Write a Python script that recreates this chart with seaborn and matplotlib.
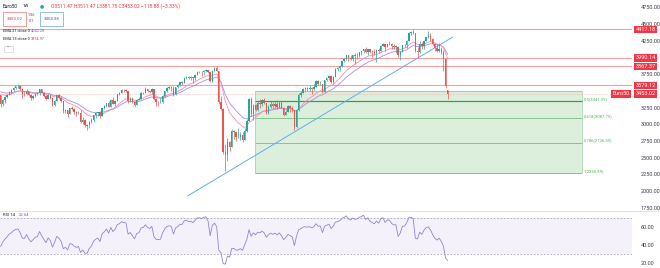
import numpy as np
import pandas as pd
import matplotlib
matplotlib.use("Agg")
import matplotlib.pyplot as plt
from matplotlib.patches import Rectangle
from matplotlib.lines import Line2D
from matplotlib.transforms import blended_transform_factory
import seaborn as sns

# ---------------- data ----------------
symbol = "Euro50"
interval = "1W"
ohlc_text = "O3511.47 H3511.47 L3381.75 C3453.02 \u2212118.88 (\u22123.33%)"
sell_price = "3453.02"
spread_top = "1.36"
spread_bottom = "0.1"
buy_price = "3454.38"
ema21_value = "4042.20"
ema13_value = "3974.97"
rsi_value = "22.64"

# weekly closes before the first visible bar (only used to warm up the indicators)
warmup_closes = [3580, 3590, 3540, 3580, 3600, 3555, 3504, 3608, 3615, 3650,
                 3647, 3523, 3325, 3401, 3441, 3335, 3435, 3437]

closes = [
    3297, 3362, 3408, 3442, 3489, 3508, 3545, 3565, 3573, 3531,
    3454, 3448, 3500, 3440, 3395, 3422, 3450, 3460, 3526, 3474,
    3426, 3377, 3436, 3393, 3283, 3345, 3431, 3399, 3345, 3194,
    3213, 3152, 3238, 3230, 3190, 3161, 3173, 3040, 3070, 2987,
    2986, 3041, 3070, 3135, 3163, 3178, 3125, 3240, 3269, 3318,
    3260, 3366, 3305, 3351, 3449, 3470, 3515, 3505, 3503, 3351,
    3380, 3329, 3281, 3367, 3377, 3467, 3474, 3527, 3497, 3482,
    3519, 3376, 3333, 3329, 3334, 3427, 3496, 3538, 3551, 3543,
    3448, 3556, 3579, 3624, 3623, 3697, 3709, 3695, 3703, 3689,
    3731, 3776, 3782, 3773, 3799, 3808, 3779, 3640, 3798, 3841,
    3800, 3329, 3232, 2586, 2548, 2728, 2662, 2892, 2888, 2809,
    2810, 2842, 2770, 2905, 3050, 3384, 3153, 3289, 3219, 3320,
    3296, 3366, 3310, 3174, 3252, 3308, 3271, 3306, 3260, 3316,
    3249, 3137, 3190, 3273, 3245, 3208, 2958, 3208, 3433, 3468,
    3527, 3539, 3531, 3546, 3525, 3553, 3645, 3599, 3602, 3481,
    3656, 3686, 3713, 3636, 3700, 3826, 3837, 3867, 3945, 3978,
    4032, 3990, 3975, 4034, 4017, 4026, 4073, 4092, 4127, 4083,
    4123, 4084, 4072, 4060, 4110, 4089, 4175, 4199, 4153, 4203,
    4201, 4170, 4157, 4158, 4036, 4079, 4183, 4189, 4250, 4363,
    4370, 4356, 4089, 4080, 4199, 4162, 4248, 4298, 4316, 4272,
    4200, 4136, 4100, 4130, 4074, 3970, 3571.90, 3453.02,
]

highs = [
    3395, 3380, 3425, 3450, 3500, 3520, 3550, 3578, 3596, 3585,
    3540, 3490, 3520, 3500, 3445, 3430, 3460, 3480, 3530, 3530,
    3480, 3430, 3445, 3440, 3390, 3360, 3435, 3445, 3400, 3345,
    3230, 3215, 3245, 3270, 3240, 3200, 3195, 3210, 3110, 3080,
    3010, 3055, 3090, 3140, 3180, 3190, 3200, 3245, 3285, 3320,
    3340, 3375, 3410, 3365, 3455, 3480, 3525, 3525, 3525, 3500,
    3410, 3400, 3345, 3375, 3405, 3480, 3485, 3550, 3525, 3510,
    3540, 3530, 3390, 3350, 3390, 3435, 3500, 3555, 3570, 3570,
    3575, 3560, 3600, 3630, 3640, 3710, 3720, 3720, 3715, 3705,
    3750, 3790, 3790, 3795, 3805, 3825, 3815, 3760, 3805, 3850,
    3867.37, 3800, 3420, 3240, 2700, 2800, 2750, 2925, 2920, 2890,
    2950, 2880, 2880, 2950, 3080, 3390, 3400, 3300, 3300, 3340,
    3375, 3375, 3390, 3320, 3290, 3340, 3330, 3340, 3360, 3340,
    3350, 3260, 3220, 3290, 3290, 3270, 3210, 3225, 3470, 3490,
    3535, 3550, 3560, 3580, 3560, 3600, 3660, 3665, 3640, 3600,
    3660, 3695, 3730, 3730, 3725, 3840, 3860, 3880, 3950, 3985,
    4035, 4040, 4030, 4040, 4070, 4060, 4080, 4100, 4130, 4160,
    4130, 4130, 4110, 4120, 4120, 4140, 4180, 4210, 4200, 4205,
    4245, 4210, 4200, 4190, 4170, 4090, 4185, 4200, 4260, 4375,
    4390, 4417.18, 4365, 4160, 4240, 4230, 4260, 4310, 4392, 4360,
    4290, 4210, 4200, 4220, 4160, 4110, 3990.14, 3511.47,
]

lows = [
    3260, 3280, 3320, 3390, 3430, 3455, 3490, 3530, 3540, 3510,
    3385, 3420, 3440, 3420, 3360, 3370, 3400, 3430, 3440, 3460,
    3400, 3355, 3370, 3380, 3270, 3280, 3340, 3380, 3330, 3170,
    3170, 3110, 3150, 3215, 3160, 3120, 3150, 3020, 3010, 2960,
    2909, 2940, 3020, 3040, 3100, 3130, 3100, 3120, 3225, 3265,
    3255, 3275, 3300, 3280, 3350, 3435, 3465, 3480, 3475, 3320,
    3330, 3320, 3270, 3285, 3360, 3375, 3445, 3475, 3480, 3465,
    3450, 3360, 3280, 3280, 3320, 3310, 3410, 3480, 3520, 3490,
    3420, 3440, 3540, 3565, 3590, 3620, 3675, 3680, 3660, 3615,
    3665, 3735, 3760, 3720, 3740, 3780, 3770, 3635, 3630, 3790,
    3790, 3300, 3210, 2550, 2302, 2450, 2600, 2665, 2780, 2750,
    2800, 2760, 2730, 2800, 2890, 3050, 3130, 3070, 3200, 3200,
    3240, 3280, 3300, 3150, 3160, 3250, 3250, 3250, 3230, 3240,
    3240, 3130, 3140, 3180, 3180, 3180, 2920, 2950, 3200, 3400,
    3460, 3490, 3490, 3500, 3450, 3515, 3550, 3590, 3580, 3470,
    3490, 3640, 3660, 3620, 3610, 3700, 3800, 3800, 3860, 3930,
    3960, 3950, 3960, 3950, 3900, 3980, 4000, 4040, 4070, 4070,
    4040, 4060, 4000, 4040, 3930, 4070, 4090, 4170, 4100, 4150,
    4190, 4130, 4120, 4060, 4010, 3960, 4080, 4150, 4140, 4250,
    4330, 4340, 4080, 4000, 4070, 4120, 4130, 4240, 4290, 4250,
    4180, 4100, 4080, 4080, 4050, 3800, 3540, 3381.75,
]
last_open = 3511.47

resistance_levels = [4417.18, 3990.14, 3867.37, 3579.12]
last_price = 3453.02
fib_ratios = ["0.5", "0.618", "0.786", "1"]
fib_values = [3341.59, 3087.75, 2726.35, 2265.99]
fib_box_top = 3490
fib_box_bars = [117.6, 269.0]
trend_bars = [86.6, 209.3]
trend_prices = [1930, 4302]
# 3500 and 4000 labels are hidden behind the price tags in the reference
price_ticks = [1750, 2000, 2250, 2500, 2750, 3000, 3250, 3750, 4250, 4500, 4750]
rsi_ticks = [20, 40, 60]
rsi_bands = [30, 70]

# ---------------- derived series ----------------
n = len(closes)
nw = len(warmup_closes)
opens = [warmup_closes[-1]] + closes[:-1]
opens[-1] = last_open
o = np.array(opens, float)
c = np.array(closes, float)
h = np.maximum(np.array(highs, float), np.maximum(o, c))
l = np.minimum(np.array(lows, float), np.minimum(o, c))
x = np.arange(n)

allc = pd.Series(warmup_closes + closes, dtype=float)
ema21 = allc.ewm(span=21, adjust=False).mean().iloc[nw:].to_numpy()
ema13 = allc.ewm(span=13, adjust=False).mean().iloc[nw:].to_numpy()
d = allc.diff()
g = d.clip(lower=0).ewm(alpha=1 / 14, adjust=False).mean()
ls = (-d.clip(upper=0)).ewm(alpha=1 / 14, adjust=False).mean()
rsi = (100 - 100 / (1 + g / ls)).iloc[nw:].to_numpy()

df = pd.DataFrame({"bar": x, "ema21": ema21, "ema13": ema13, "rsi": rsi})

# ---------------- style ----------------
sns.set_style("white")
plt.rcParams["font.family"] = ["Roboto", "DejaVu Sans"]

W, H = 660, 268
fig = plt.figure(figsize=(W / 100, H / 100), dpi=100)
fig.patch.set_facecolor("white")
PR = 632  # right edge of plotting area in px


def fx(px):
    return px / W


def fy(py):
    return 1 - py / H


ax = fig.add_axes([0, fy(210), PR / W, 210 / H])
axr = fig.add_axes([0, 0, PR / W, 57 / H])

UP, DOWN = "#26a69a", "#ef5350"
LEVEL = "#f5a3a0"
TAG = "#f23645"

for a in (ax, axr):
    for s in a.spines.values():
        s.set_visible(False)
    a.set_facecolor("none")
    a.set_xticks([])
    a.yaxis.tick_right()
    a.tick_params(axis="y", length=0, pad=6, labelsize=4, labelcolor="#3a3e4a")

ax.set_xlim(-0.3, 292.3)
ax.set_ylim(1720, 4855)
axr.set_xlim(-0.3, 292.3)
axr.set_ylim(14.4, 77.8)
ax.set_yticks(price_ticks)
ax.set_yticklabels([f"{t:.2f}" for t in price_ticks])
axr.set_yticks(rsi_ticks)
axr.set_yticklabels([f"{t:.2f}" for t in rsi_ticks])

# fib box
fx0, fx1 = fib_box_bars
ax.add_patch(Rectangle((fx0, fib_values[-1]), fx1 - fx0, fib_box_top - fib_values[-1],
                       fc="#dcefdc", ec="none", zorder=0.5))
ax.hlines([fib_box_top], fx0, fx1, colors="#a3c9c6", lw=0.8, zorder=0.6)
ax.vlines([fx0, fx1], fib_values[-1], fib_box_top, colors="#9fd0a3", lw=0.5, zorder=0.6)
fib_cols = ["#3f9a4a", "#86c48a", "#86c48a", "#86c48a"]
fib_lw = [0.9, 0.7, 0.7, 0.7]
for r, v, col, lw in zip(fib_ratios, fib_values, fib_cols, fib_lw):
    ax.hlines(v, fx0, fx1, colors=col, lw=lw, zorder=0.7)
    ax.text(fx1 + 0.8, v + 35, f"{r}({v:.2f})", fontsize=3.0, color="#4caf50",
            va="center", ha="left")

# horizontal levels
for v in resistance_levels:
    ax.axhline(v, color=LEVEL, lw=0.8, zorder=0.8)
ax.axhline(last_price, color=LEVEL, lw=0.5, ls=(0, (1, 1)), zorder=0.8, alpha=0.8)

# trend line
ax.plot(trend_bars, trend_prices, color="#62aee6", lw=0.7, zorder=1)

# EMAs
sns.lineplot(data=df, x="bar", y="ema21", ax=ax, color="#a88fdc", lw=0.6, zorder=2)
sns.lineplot(data=df, x="bar", y="ema13", ax=ax, color="#f48fb1", lw=0.6, zorder=2)
ax.set_xlabel("")
ax.set_ylabel("")

# candles
cols = np.where(c >= o, UP, DOWN)
ax.vlines(x, l, h, colors=cols, lw=0.5, zorder=3)
body = c - o
body = np.where(np.abs(body) < 6, np.where(body >= 0, 6, -6), body)
ax.bar(x, body, bottom=o, width=0.62, color=cols, lw=0, zorder=4)

# price tags on axis
bt = blended_transform_factory(ax.transAxes, ax.transData)
for v in resistance_levels + [last_price]:
    ax.text(635.5 / PR, v, f"{v:.2f}", transform=bt, fontsize=4.0, color="white",
            va="center", ha="left", zorder=10,
            bbox=dict(boxstyle="square,pad=0.2", fc=TAG, ec="none"))
ax.text(629.5 / PR, last_price, symbol, transform=bt, fontsize=4.0, color="white",
        va="center", ha="right", zorder=10,
        bbox=dict(boxstyle="square,pad=0.2", fc=TAG, ec="none"))

# RSI panel
axr.axhspan(rsi_bands[0], rsi_bands[1], color="#7e57c2", alpha=0.08, lw=0)
for b in rsi_bands:
    axr.axhline(b, color="#a9a6c2", lw=0.6, ls=(0, (2, 2)))
sns.lineplot(data=df, x="bar", y="rsi", ax=axr, color="#9584cf", lw=0.6)
axr.set_xlabel("")
axr.set_ylabel("")

# separator
fig.add_artist(Line2D([0, 1], [fy(210.5), fy(210.5)], color="#e0e3eb", lw=0.8))

# header legend
fig.text(fx(3), fy(6), symbol, fontsize=3.4, color="#131722", va="center")
fig.text(fx(22.5), fy(6), interval, fontsize=3.2, color="#131722", va="center")
fig.text(fx(40), fy(6), "\u25cf", fontsize=3.4, color="#26a69a", va="center",
         family="DejaVu Sans")
fig.text(fx(51), fy(6), ohlc_text, fontsize=3.6, color=TAG, va="center")

fig.add_artist(Rectangle((fx(3), fy(25.5)), fx(23), 13.5 / H, transform=fig.transFigure,
                         fc="white", ec="#f28b8b", lw=0.6))
fig.text(fx(14.5), fy(18.8), sell_price, fontsize=3.2, color=TAG, va="center", ha="center")
fig.text(fx(31.5), fy(14.5), spread_top, fontsize=2.8, color="#555", va="center", ha="center")
fig.text(fx(31.5), fy(21.5), spread_bottom, fontsize=2.8, color="#555", va="center", ha="center")
fig.add_artist(Rectangle((fx(40), fy(25.5)), fx(23), 13.5 / H, transform=fig.transFigure,
                         fc="white", ec="#7fb6d9", lw=0.6))
fig.text(fx(51.5), fy(18.8), buy_price, fontsize=3.2, color="#2962ff", va="center", ha="center")

fig.text(fx(3), fy(31), "EMA 21 close 0", fontsize=2.8, color="#131722", va="center")
fig.text(fx(31), fy(31), ema21_value, fontsize=2.8, color="#7e57c2", va="center")
fig.text(fx(3), fy(39.5), "EMA 13 close 0", fontsize=2.8, color="#131722", va="center")
fig.text(fx(31), fy(39.5), ema13_value, fontsize=2.8, color="#e91e63", va="center")
fig.add_artist(Rectangle((fx(3.5), fy(51.5)), fx(9), 6 / H, transform=fig.transFigure,
                         fc="white", ec="#d1d4dc", lw=0.5))
fig.text(fx(8), fy(48.3), "\u02c4", fontsize=3.2, color="#131722", va="center", ha="center",
         family="DejaVu Sans")

fig.text(fx(3), fy(214.5), "RSI 14", fontsize=3.0, color="#131722", va="center")
fig.text(fx(19), fy(214.5), rsi_value, fontsize=3.0, color="#7e57c2", va="center")

fig.savefig("out.png", dpi=100)
